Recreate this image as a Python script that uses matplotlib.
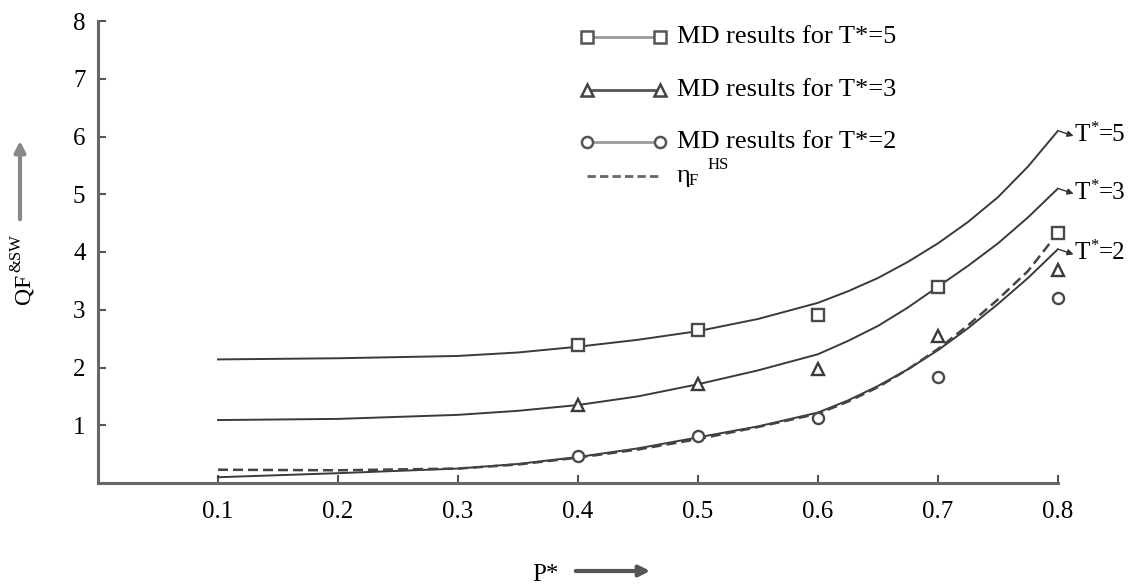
import matplotlib
matplotlib.use("Agg")
import matplotlib.pyplot as plt
from matplotlib.lines import Line2D

plt.rcParams['font.family'] = ['Liberation Serif', 'DejaVu Serif']

# curves
x_curve = [0.1, 0.2, 0.3, 0.35, 0.4, 0.45, 0.5, 0.55, 0.6, 0.625, 0.65, 0.675, 0.7,
           0.725, 0.75, 0.775, 0.8]
t5_curve = [2.14, 2.16, 2.20, 2.26, 2.36, 2.48, 2.63, 2.84, 3.12, 3.32, 3.55, 3.83, 4.15,
            4.52, 4.95, 5.48, 6.10]
t3_curve = [1.09, 1.11, 1.18, 1.25, 1.35, 1.50, 1.71, 1.95, 2.23, 2.46, 2.72, 3.04, 3.40,
            3.76, 4.15, 4.60, 5.10]
t2_curve = [0.10, 0.17, 0.25, 0.33, 0.45, 0.60, 0.79, 0.98, 1.22, 1.43, 1.68, 1.97, 2.30,
            2.68, 3.10, 3.55, 4.05]
hs_x = [0.1, 0.2, 0.3, 0.35, 0.4, 0.45, 0.5, 0.55, 0.6, 0.625, 0.65, 0.675, 0.7,
        0.725, 0.75, 0.775, 0.795]
hs_curve = [0.23, 0.22, 0.25, 0.32, 0.44, 0.58, 0.76, 0.97, 1.20, 1.41, 1.66, 1.97, 2.32,
            2.73, 3.18, 3.67, 4.20]

# MD points
md_x = [0.4, 0.5, 0.6, 0.7, 0.8]
md_t5 = [2.39, 2.65, 2.91, 3.40, 4.33]
md_t3 = [1.35, 1.71, 1.97, 2.54, 3.69]
md_t2 = [0.47, 0.82, 1.13, 1.84, 3.20]

x_ticks = [0.1, 0.2, 0.3, 0.4, 0.5, 0.6, 0.7, 0.8]
y_ticks = [1, 2, 3, 4, 5, 6, 7, 8]
end_values = ['=5', '=3', '=2']
legend_labels = ['MD results for T*=5', 'MD results for T*=3', 'MD results for T*=2']

fig = plt.figure(figsize=(11.36, 5.85), dpi=100)
ax = fig.add_axes([98 / 1136, 102 / 585, 960 / 1136, 462 / 585])

line_c = '#3a3a3a'
ax.plot(x_curve, t5_curve, color=line_c, lw=1.4)
ax.plot(x_curve, t3_curve, color=line_c, lw=1.4)
ax.plot(x_curve, t2_curve, color=line_c, lw=1.4)
ax.plot(hs_x, hs_curve, color='#444444', lw=1.8, ls=(0, (4, 2)))

mk = dict(ls='none', ms=8, mew=1.7, mfc='white', clip_on=False)
ax.plot(md_x, md_t5, marker='s', mec='#4a4a4a', **mk)
ax.plot(md_x, md_t3, marker='^', mec='#3a3a3a', **mk)
ax.plot(md_x, md_t2, marker='o', mec='#4a4a4a', **mk)

# end labels with small hooks
for curve, val in zip([t5_curve, t3_curve, t2_curve], end_values):
    end = (x_curve[-1], curve[-1])
    ax.annotate('', xy=(end[0] + 0.013, end[1] - 0.09), xytext=end,
                arrowprops=dict(arrowstyle='-|>', color='#333333', lw=1,
                                mutation_scale=9, shrinkA=0, shrinkB=0),
                annotation_clip=False)
    ax.annotate('T', xy=end, xytext=(12, -3), textcoords='offset points',
                fontsize=18, va='center', ha='left', annotation_clip=False)
    ax.annotate('*', xy=end, xytext=(23, 2), textcoords='offset points',
                fontsize=12, va='center', ha='left', annotation_clip=False)
    ax.annotate(val, xy=end, xytext=(29, -3), textcoords='offset points',
                fontsize=18, va='center', ha='left', annotation_clip=False)

ax.set_xlim(0, 0.8)
ax.set_ylim(0, 8)
ax.set_xticks(x_ticks)
ax.set_xticklabels([str(v) for v in x_ticks])
ax.set_yticks(y_ticks)
ax.set_yticklabels([str(v) for v in y_ticks])
for s in ['top', 'right']:
    ax.spines[s].set_visible(False)
for s in ['left', 'bottom']:
    ax.spines[s].set_color('#666666')
    ax.spines[s].set_linewidth(2.2)
ax.tick_params(axis='both', direction='in', length=6, width=1.5, color='#555555',
               labelsize=18)
ax.tick_params(axis='x', pad=13)
ax.tick_params(axis='y', pad=9)

# legend drawn by hand
rows = [37, 90, 142, 176]
styles = [dict(marker='s', color='#999999', mec='#555555'),
          dict(marker='^', color='#555555', mec='#444444'),
          dict(marker='o', color='#999999', mec='#555555')]
for yr, st, lab in zip(rows[:3], styles, legend_labels):
    yf = 1 - yr / 585
    fig.add_artist(Line2D([587 / 1136, 660 / 1136], [yf, yf], lw=2, color=st['color'],
                          marker=st['marker'], ms=8, mew=1.8, mfc='white',
                          mec=st['mec'], transform=fig.transFigure))
    fig.text(677 / 1136, yf, lab, fontsize=19, va='center', ha='left')
yf = 1 - rows[3] / 585
fig.add_artist(Line2D([587 / 1136, 660 / 1136], [yf, yf], lw=2, color='#666666',
                      ls=(0, (3, 1.5)), transform=fig.transFigure))
fig.text(677 / 1136, yf, 'η', fontsize=19, va='center', ha='left')
fig.text(689 / 1136, yf - 0.008, 'F', fontsize=12, va='center', ha='left')
fig.text(708 / 1136, yf + 0.018, 'HS', fontsize=12, va='center', ha='left')

# axis labels with arrows
fig.text(24 / 1136, 1 - 289 / 585, 'QF', fontsize=17, rotation=90,
         va='center', ha='center')
fig.text(16 / 1136, 1 - 253 / 585, '&SW', fontsize=12, rotation=90,
         va='center', ha='center')
fig.add_artist(plt.Annotation('', xy=(20, 585 - 138), xytext=(20, 585 - 222),
                              xycoords='figure pixels', textcoords='figure pixels',
                              arrowprops=dict(arrowstyle='-|>', color='#888888', lw=3,
                                              mutation_scale=16)))
fig.text(545 / 1136, 1 - 564 / 585, 'P*', fontsize=18, va='top', ha='center')
fig.add_artist(plt.Annotation('', xy=(653, 585 - 571), xytext=(573, 585 - 571),
                              xycoords='figure pixels', textcoords='figure pixels',
                              arrowprops=dict(arrowstyle='-|>', color='#555555', lw=3,
                                              mutation_scale=16)))

fig.savefig('out.png', dpi=100)
